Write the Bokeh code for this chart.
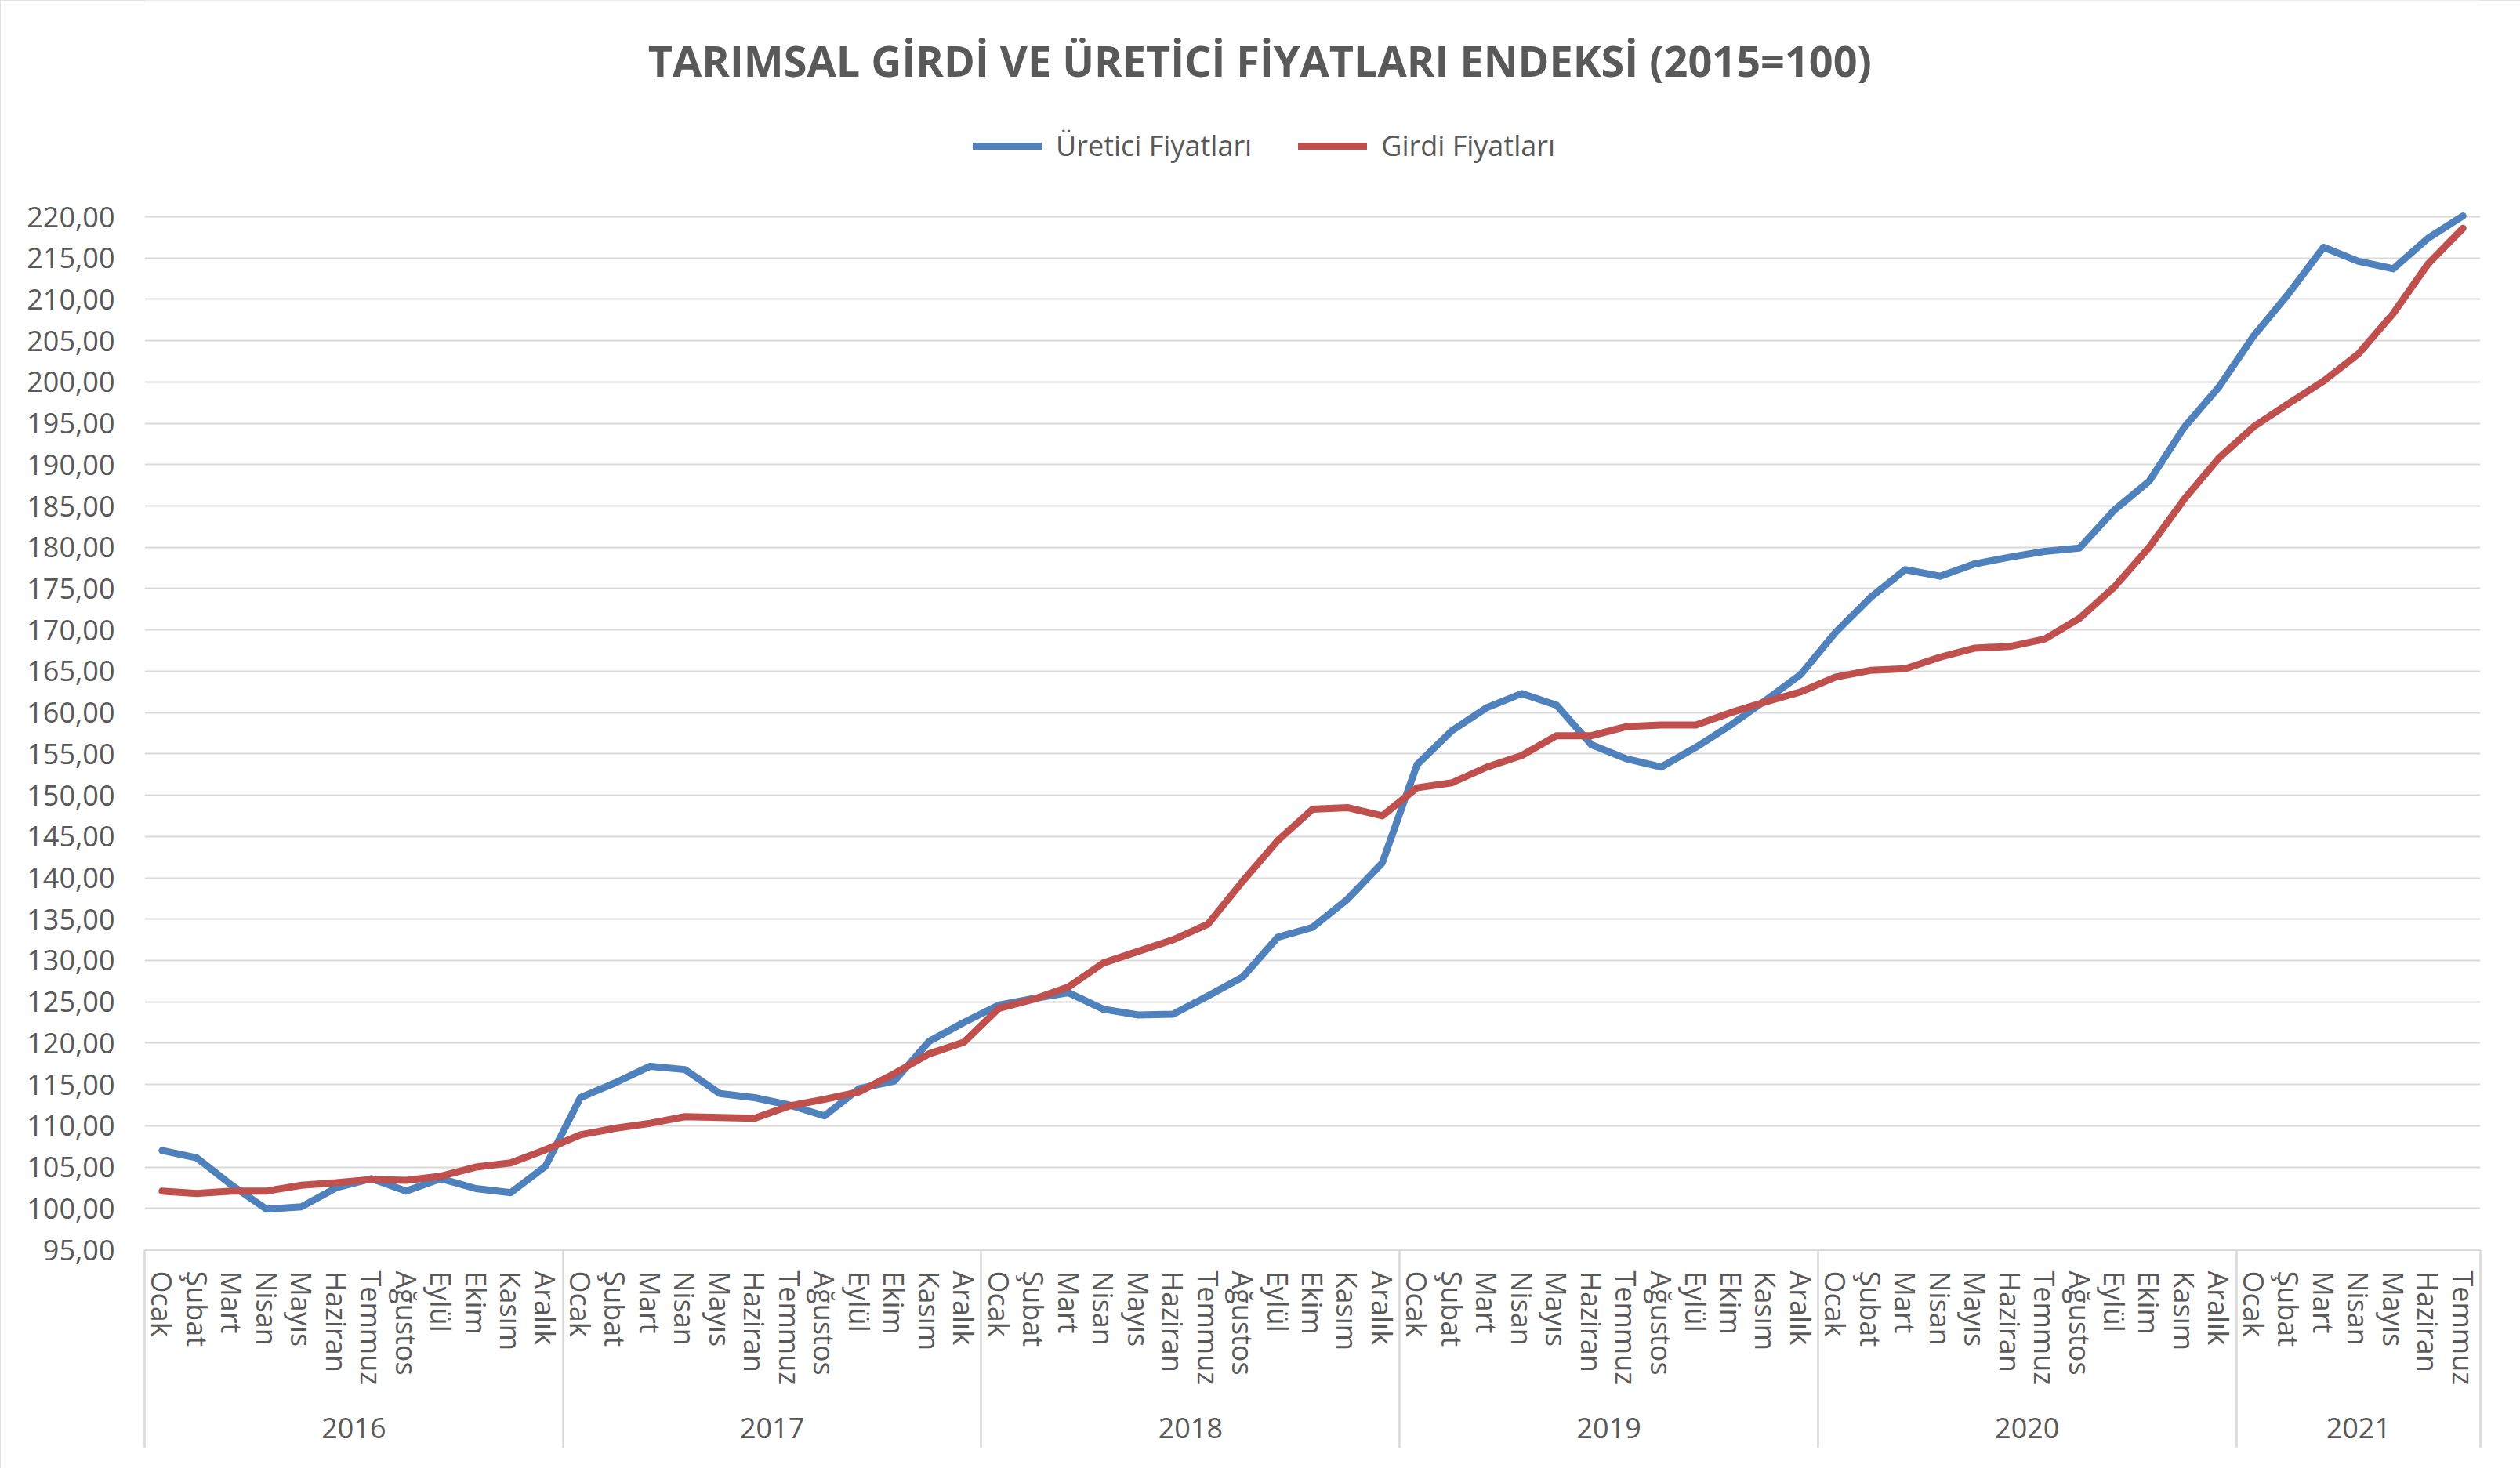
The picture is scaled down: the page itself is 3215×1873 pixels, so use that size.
from bokeh.plotting import figure
from bokeh.models import Range1d, FixedTicker, LinearAxis, Legend, LegendItem, Label, ColumnDataSource
from bokeh.embed import file_html
from bokeh.resources import INLINE

# ---------------- data ----------------
years = ["2016", "2017", "2018", "2019", "2020", "2021"]
months_per_year = [12, 12, 12, 12, 12, 7]
month_names = ["Ocak", "Şubat", "Mart", "Nisan", "Mayıs", "Haziran",
               "Temmuz", "Ağustos", "Eylül", "Ekim", "Kasım", "Aralık"]

uretici = [107.0, 106.1, 102.8, 99.9, 100.2, 102.5, 103.6, 102.1, 103.6, 102.4, 101.9, 105.1,
           113.4, 115.2, 117.2, 116.8, 113.9, 113.4, 112.5, 111.2, 114.5, 115.4, 120.2, 122.5,
           124.6, 125.4, 126.1, 124.1, 123.4, 123.5, 125.7, 128.0, 132.8, 134.0, 137.4, 141.8,
           153.7, 157.8, 160.6, 162.3, 160.9, 156.1, 154.4, 153.4, 155.8, 158.5, 161.5, 164.6,
           169.7, 173.9, 177.3, 176.5, 178.0, 178.8, 179.5, 179.9, 184.5, 188.0, 194.5, 199.4,
           205.6, 210.7, 216.3, 214.6, 213.7, 217.4, 220.1]

girdi = [102.1, 101.8, 102.1, 102.1, 102.8, 103.1, 103.5, 103.4, 103.9, 105.0, 105.5, 107.1,
         108.9, 109.7, 110.3, 111.1, 111.0, 110.9, 112.4, 113.2, 114.1, 116.3, 118.7, 120.1,
         124.2, 125.3, 126.8, 129.7, 131.1, 132.5, 134.4, 139.6, 144.5, 148.3, 148.5, 147.5,
         150.9, 151.5, 153.4, 154.8, 157.2, 157.2, 158.3, 158.5, 158.5, 160.0, 161.3, 162.5,
         164.3, 165.1, 165.3, 166.7, 167.8, 168.0, 168.9, 171.4, 175.2, 180.0, 185.8, 190.8,
         194.6, 197.4, 200.1, 203.4, 208.3, 214.3, 218.6]

y_ticks = list(range(95, 221, 5))
y_tick_labels = [f"{v},00" for v in y_ticks]

title_text = "TARIMSAL GİRDİ VE ÜRETİCİ FİYATLARI ENDEKSİ (2015=100)"
series_names = ["Üretici Fiyatları", "Girdi Fiyatları"]

# ---------------- derived categories ----------------
month_labels = []
for n in months_per_year:
    month_labels += month_names[:n]
idx = list(range(len(month_labels)))

year_centers, year_bounds = [], [-0.5]
start = -0.5
for n in months_per_year:
    year_centers.append(start + n / 2)
    start += n
    year_bounds.append(start)

TXT = "#595959"
GRID = "#d9d9d9"
FONT = "Open Sans"

# layout constants (pixels)
W, H = 3215, 1873
LEFT, RIGHT, BOTTOM = 184, 51, 279
PLOT_H_220 = 1318                    # pixel height from 95 to 220
px_per_unit = PLOT_H_220 / (220 - 95)
frame_h = H - BOTTOM                 # frame reaches the top of the canvas
y_top = 95 + frame_h / px_per_unit

p = figure(width=W, height=H,
           x_range=Range1d(-0.5, len(idx) - 0.5), y_range=Range1d(95, y_top),
           output_backend="svg", toolbar_location=None,
           min_border_left=LEFT, min_border_right=RIGHT, min_border_top=0, min_border_bottom=BOTTOM,
           background_fill_color="white", border_fill_color="white", outline_line_color=None)
p.styles = {"outline": "3px solid #d9d9d9", "outline-offset": "-3px"}

# y axis
ya = p.yaxis[0]
ya.ticker = FixedTicker(ticks=y_ticks)
ya.major_label_overrides = {t: l for t, l in zip(y_ticks, y_tick_labels)}
ya.axis_line_color = None
ya.major_tick_line_color = None
ya.minor_tick_line_color = None
ya.major_tick_out = 0
ya.major_tick_in = 0
ya.major_label_standoff = 38
ya.major_label_text_font = FONT
ya.major_label_text_font_size = "36px"
ya.major_label_text_color = TXT

p.ygrid.ticker = FixedTicker(ticks=y_ticks)
p.ygrid.grid_line_color = GRID
p.ygrid.grid_line_width = 2
p.xgrid.visible = False

# month axis, year separators drawn as its minor ticks
SEP_LEN = 253
xa = p.xaxis[0]
xa.ticker = FixedTicker(ticks=idx, minor_ticks=year_bounds)
xa.major_label_overrides = {i: m for i, m in zip(idx, month_labels)}
xa.major_label_orientation = "vertical"
xa.major_tick_line_color = None
xa.major_tick_out = 0
xa.major_tick_in = 0
xa.minor_tick_line_color = GRID
xa.minor_tick_line_width = 2.5
xa.minor_tick_in = 0
xa.minor_tick_out = SEP_LEN
xa.major_label_standoff = 27 - SEP_LEN
xa.axis_line_color = GRID
xa.axis_line_width = 3
xa.major_label_text_font = FONT
xa.major_label_text_font_size = "36px"
xa.major_label_text_color = TXT

# year axis
yax = LinearAxis(ticker=FixedTicker(ticks=year_centers),
                 major_label_overrides={c: y for c, y in zip(year_centers, years)},
                 major_tick_line_color=None, major_tick_out=0, major_tick_in=0,
                 minor_tick_line_color=None, minor_tick_out=0, minor_tick_in=0,
                 axis_line_color=None, major_label_standoff=38,
                 major_label_text_font=FONT, major_label_text_font_size="36px",
                 major_label_text_color=TXT)
p.add_layout(yax, "below")

src = ColumnDataSource(dict(x=idx, uretici=uretici, girdi=girdi))
r1 = p.line("x", "uretici", source=src, line_color="#4F81BD", line_width=9,
            line_join="round", line_cap="round")
r2 = p.line("x", "girdi", source=src, line_color="#C0504D", line_width=9,
            line_join="round", line_cap="round")

legend = Legend(items=[LegendItem(label=series_names[0], renderers=[r1]),
                       LegendItem(label=series_names[1], renderers=[r2])],
                orientation="horizontal", location=(1057, 1384),
                padding=0, margin=0, spacing=59, label_standoff=18,
                glyph_width=88, glyph_height=30,
                label_text_font=FONT, label_text_font_size="36px", label_text_color=TXT,
                border_line_color=None, background_fill_alpha=0)
p.add_layout(legend, "center")

title = Label(x=31.49, y=y_top - 76 / px_per_unit, text=title_text,
              text_align="center", text_baseline="middle",
              text_font=FONT, text_font_style="bold", text_font_size="54px", text_color=TXT)
p.add_layout(title)

open("out.html", "w").write(file_html(p, INLINE))
